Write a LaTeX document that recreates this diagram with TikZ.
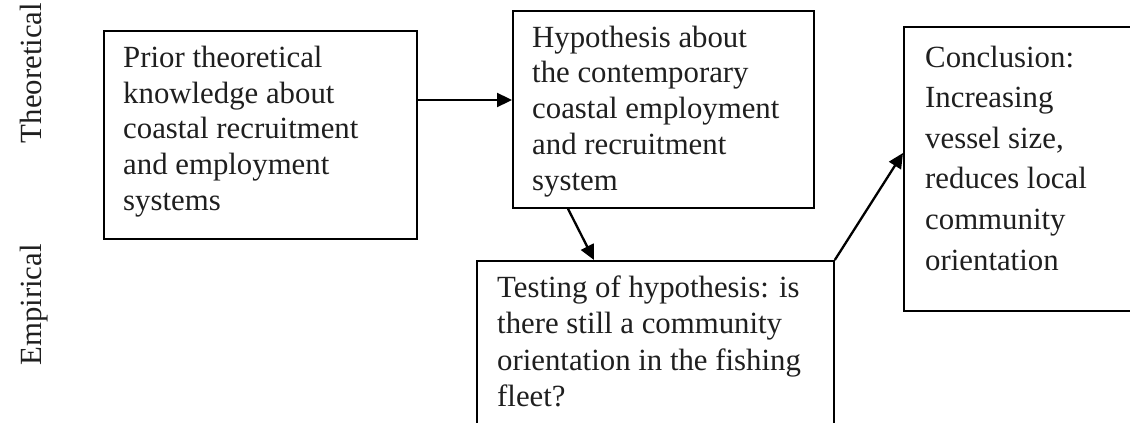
\documentclass[tikz,border=0pt]{standalone}
\usepackage{fontspec}
\setmainfont{Liberation Serif}
\usetikzlibrary{arrows.meta,calc}

\tikzset{
  boxframe/.style={draw=black, line width=1.8pt, inner sep=0pt, anchor=north west},
  boxtext/.style={inner sep=0pt, anchor=base west, text=black!88},
  sidelabel/.style={inner sep=0pt, anchor=base, rotate=90, text=black!88,
    font=\fontsize{30.8}{36}\selectfont},
  flow/.style={draw=black, line width=2.3pt, -{Triangle[length=15pt,width=14pt]}},
}

\newcommand{\boxlines}[2]{\parbox[t]{#1}{\raggedright #2}}

\begin{document}
\begin{tikzpicture}[x=1pt, y=-1pt]
  \clip (0,0) rectangle (1130,423);
  \fill[white] (0,0) rectangle (1130,423);

  % side labels
  \node[sidelabel] (theo) at (41,73) {Theoretical};
  \node[sidelabel] (emp) at (41,305) {Empirical};

  % frames
  \node[boxframe, minimum width=313pt, minimum height=208pt] (prior) at (103,30) {};
  \node[boxframe, minimum width=301pt, minimum height=197pt] (hyp) at (512,10) {};
  \node[boxframe, minimum width=357pt, minimum height=220pt] (test) at (476,260) {};
  \node[boxframe, minimum width=300pt, minimum height=284pt] (concl) at (903,26) {};

  % texts
  \node[boxtext, font=\fontsize{30.8}{35.6}\selectfont] (priortxt) at (123,67.7)
    {\boxlines{290pt}{Prior theoretical\\knowledge about\\coastal recruitment\\and employment\\systems}};
  \node[boxtext, font=\fontsize{30.8}{35.75}\selectfont] (hyptxt) at (532,47)
    {\boxlines{280pt}{Hypothesis about\\the contemporary\\coastal employment\\and recruitment\\system}};
  \node[boxtext, font=\fontsize{30.8}{36.5}\selectfont] (testtxt) at (497,297)
    {\boxlines{330pt}{Testing of hypothesis: is\\there still a community\\orientation in the fishing\\fleet?}};
  \node[boxtext, font=\fontsize{30.8}{40.6}\selectfont] (concltxt) at (925,67)
    {\boxlines{200pt}{Conclusion:\\Increasing\\vessel size,\\reduces local\\community\\orientation}};

  % connectors
  \draw[flow] ($(prior.north east)+(0,70)$) -- ($(hyp.north west)+(0,90)$);
  \draw[flow] ($(hyp.south west)+(56,0)$) -- ($(test.north west)+(118,0)$);
  \draw[flow] (test.north east) -- ($(concl.north west)+(0,127)$);
\end{tikzpicture}
\end{document}
